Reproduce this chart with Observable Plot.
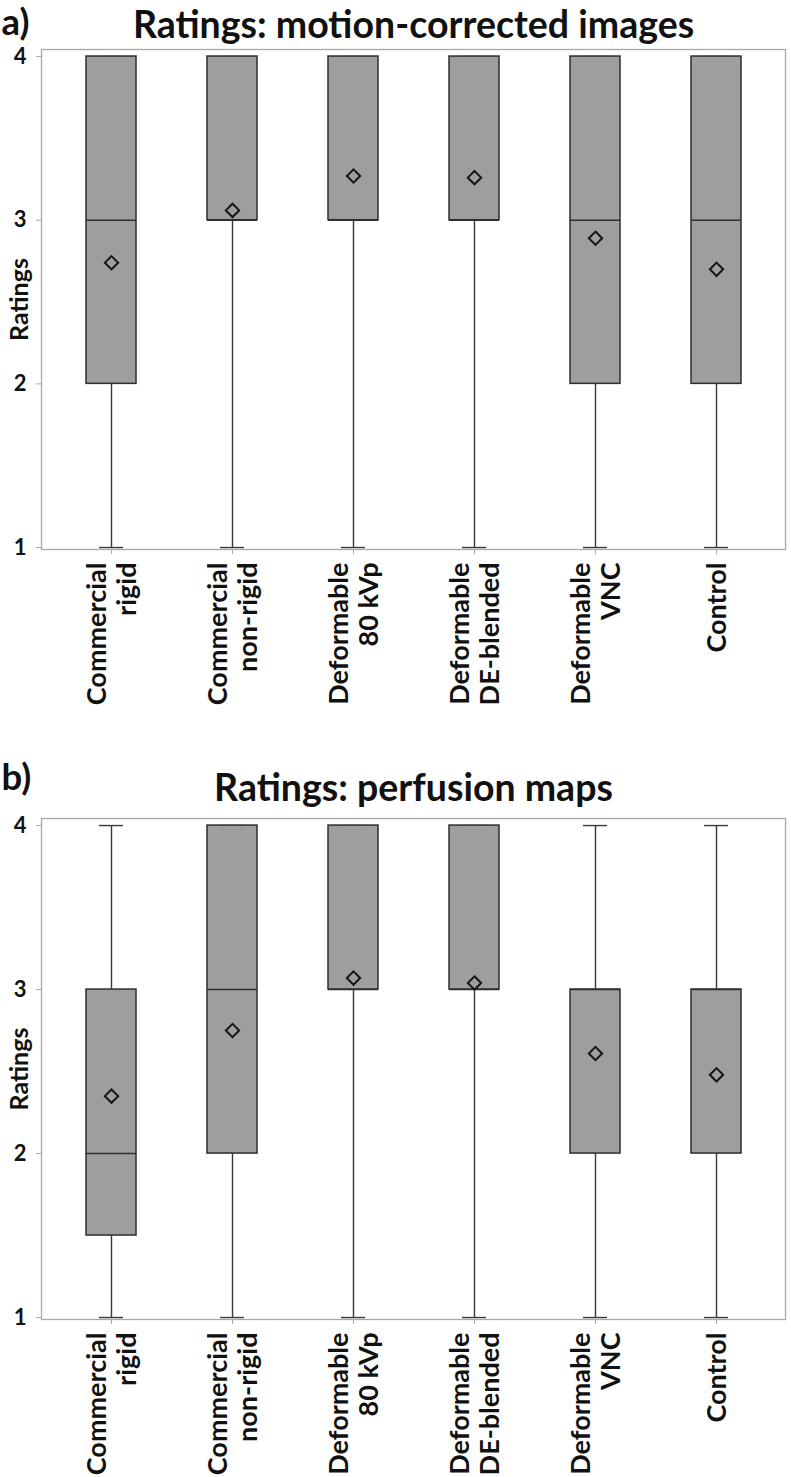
<!DOCTYPE html>
<html><head><meta charset="utf-8">
<script src="https://cdn.jsdelivr.net/npm/d3@7"></script>
<script src="https://cdn.jsdelivr.net/npm/@observablehq/plot@0.6"></script>
<style>
body{margin:0;background:#fff}
#wrap{width:791px}
#wrap svg{display:block}
</style>
</head><body><div id="wrap"></div>
<script>
const categories = ["Commercial\nrigid", "Commercial\nnon-rigid", "Deformable\n80 kVp", "Deformable\nDE-blended", "Deformable\nVNC", "Control"];
const yTicks = [1, 2, 3, 4];

// a) motion-corrected images
const motionMin    = [1, 1, 1, 1, 1, 1];
const motionQ1     = [2, 3, 3, 3, 2, 2];
const motionMedian = [3, 3, 3, 3, 3, 3];
const motionQ3     = [4, 4, 4, 4, 4, 4];
const motionMax    = [4, 4, 4, 4, 4, 4];
const motionMean   = [2.74, 3.06, 3.27, 3.26, 2.89, 2.70];

// b) perfusion maps
const perfMin    = [1, 1, 1, 1, 1, 1];
const perfQ1     = [1.5, 2, 3, 3, 2, 2];
const perfMedian = [2, 3, 3, 3, 3, 3];
const perfQ3     = [3, 4, 4, 4, 3, 3];
const perfMax    = [4, 4, 4, 4, 4, 4];
const perfMean   = [2.35, 2.75, 3.07, 3.04, 2.61, 2.48];

function rowsOf(min, q1, med, q3, max, mean) {
  return categories.map((c, i) => ({cat: c, min: min[i], q1: q1[i], med: med[i], q3: q3[i], max: max[i], mean: mean[i]}));
}

const FONT = "Lato, 'Open Sans', sans-serif";
const DARK = "#383838";
const GRAY = "#a8a8a8";

function panel(rows, o) {
  return Plot.plot({
    width: 791,
    height: o.height,
    marginTop: o.marginTop,
    marginBottom: o.marginBottom,
    marginLeft: 41,
    marginRight: 6,
    style: {fontFamily: FONT, background: "white", color: "#111"},
    x: {type: "band", domain: categories, paddingInner: 0.5875, paddingOuter: 0.363},
    y: {domain: [0.988, 4.043]},
    marks: [
      Plot.ruleX(rows, {x: "cat", y1: "min", y2: "q1", stroke: DARK, strokeWidth: 1.4}),
      Plot.ruleX(rows, {x: "cat", y1: "q3", y2: "max", stroke: DARK, strokeWidth: 1.4}),
      Plot.tickY(rows, {x: "cat", y: "min", insetLeft: 13, insetRight: 13, stroke: DARK, strokeWidth: 1.4}),
      Plot.tickY(rows, {x: "cat", y: "max", insetLeft: 13, insetRight: 13, stroke: DARK, strokeWidth: 1.4}),
      Plot.barY(rows, {x: "cat", y1: "q1", y2: "q3", fill: "#9e9e9e", stroke: "#2e2e2e", strokeWidth: 1.5}),
      Plot.tickY(rows, {x: "cat", y: "med", stroke: "#2e2e2e", strokeWidth: 1.5}),
      Plot.dot(rows, {x: "cat", y: "mean", symbol: "diamond2", r: 6, stroke: "#151515", strokeWidth: 2, fill: "none"}),
      Plot.frame({stroke: GRAY, strokeWidth: 1.3}),
      Plot.axisY({ticks: yTicks, tickFormat: d => String(d), tickSize: 5, tickPadding: 10, stroke: GRAY, fill: "#111", fontSize: 22, fontWeight: "bold", label: null}),
      Plot.axisX({tickSize: 5, tickPadding: 8, tickRotate: -90, textAnchor: "end", lineAnchor: "middle", lineHeight: 1.1, stroke: GRAY, fill: "#111", fontSize: 27, fontWeight: "bold", label: null}),
      Plot.text(["Ratings"], {frameAnchor: "left", dx: -31, rotate: -90, textAnchor: "middle", lineAnchor: "top", fontSize: 25, fontWeight: "bold", fill: "#111"}),
      Plot.text([o.tag], {frameAnchor: "top-left", dx: -40, dy: o.tagDy, textAnchor: "start", lineAnchor: "bottom", fontSize: 36.5, fontWeight: "bold", fill: "#111"}),
      Plot.text([o.title], {frameAnchor: "top", dy: o.titleDy, lineAnchor: "bottom", fontSize: 37.5, fontWeight: "bold", fill: "#111"})
    ]
  });
}

const wrap = document.getElementById("wrap");
wrap.appendChild(panel(rowsOf(motionMin, motionQ1, motionMedian, motionQ3, motionMax, motionMean), {
  height: 720, marginTop: 49, marginBottom: 171, tag: "a)", title: "Ratings: motion-corrected images", tagDy: -15, titleDy: -12
}));
wrap.appendChild(panel(rowsOf(perfMin, perfQ1, perfMedian, perfQ3, perfMax, perfMean), {
  height: 757, marginTop: 98, marginBottom: 158, tag: "b)", title: "Ratings: perfusion maps", tagDy: -29, titleDy: -18
}));
</script>
</body></html>
